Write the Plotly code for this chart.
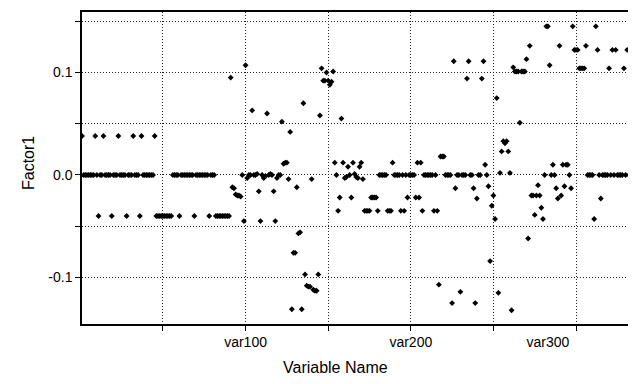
import plotly.graph_objects as go

# Variable indices (var1 .. var337)
var_index = list(range(1, 338))

# Factor1 loadings
factor1_001_100 = [
    0.038, 0, 0, 0, 0, 0, 0, 0, 0.038, 0,
    -0.040, 0, 0, 0.038, 0, 0, 0, 0, -0.040, 0,
    0, 0, 0.038, 0, 0, 0, 0, -0.040, 0, 0,
    0, 0.038, 0, 0, 0, -0.040, 0.038, 0, 0, 0,
    0, 0, 0, 0, 0.038, -0.040, -0.040, -0.040, -0.040, -0.040,
    -0.040, -0.040, -0.040, -0.040, -0.040, 0, 0, 0, 0, -0.040,
    0, 0, 0, 0, 0, 0, 0, 0, -0.040, 0,
    0, 0, 0, 0, 0, 0, 0, -0.040, 0, 0,
    0, -0.040, -0.040, -0.040, -0.040, -0.040, -0.040, -0.040, -0.040, -0.040,
    0.095, -0.012, -0.013, -0.019, -0.020, -0.020, -0.021, 0, -0.045, 0.107,
]
factor1_101_200 = [
    -0.003, 0, 0, 0.063, 0, 0, 0.001, -0.016, -0.045, 0,
    -0.003, -0.001, 0.060, 0, 0.001, 0, -0.016, -0.045, -0.003, 0,
    0, 0.052, 0.011, 0.012, 0.012, -0.004, 0.042, -0.131, -0.076, -0.076,
    -0.012, -0.057, -0.056, -0.131, 0.070, -0.097, -0.108, -0.109, -0.109, -0.004,
    -0.112, -0.113, -0.113, -0.097, 0.058, 0.104, 0.092, 0.092, 0.100, 0.092,
    0.088, 0.091, 0.101, 0.012, 0, -0.035, -0.022, 0.055, 0.012, -0.003,
    -0.002, 0.008, 0, -0.022, 0.012, 0.001, -0.002, -0.003, 0.008, 0.012,
    -0.004, -0.035, -0.035, -0.035, -0.035, -0.022, -0.022, -0.022, -0.022, -0.035,
    0, 0, 0, 0, 0, -0.035, -0.035, -0.035, 0.012, 0,
    0, 0, 0, -0.035, 0, -0.035, 0, -0.022, 0, 0,
]
factor1_201_300 = [
    0, 0, -0.022, 0.012, -0.022, 0.012, -0.035, 0, 0, 0,
    0, 0, 0, -0.035, 0, -0.035, -0.107, 0.018, 0.018, 0.018,
    0, 0, 0, 0, -0.125, 0.111, -0.013, 0, 0, -0.114,
    0, 0, 0, 0.094, 0.111, 0, 0, -0.013, -0.125, -0.023,
    0, 0, 0.094, 0.111, 0.010, 0, -0.011, -0.084, -0.030, -0.020,
    -0.043, 0.075, -0.115, 0.002, 0.023, 0.033, 0.031, 0.033, 0.023, 0.002,
    -0.132, 0.105, 0.101, 0.101, 0.101, 0.051, 0.101, 0.101, 0.101, 0.113,
    -0.062, 0.126, -0.020, -0.020, -0.039, -0.020, -0.010, -0.020, -0.032, -0.043,
    0, 0.145, 0.145, 0.107, 0, 0.010, 0, -0.013, -0.023, 0.126,
    -0.020, 0.010, -0.011, 0.010, 0.010, 0, -0.013, 0.145, 0.122, 0.122,
]
factor1_301_337 = [
    0.122, 0.104, 0.104, 0.104, 0.104, 0.126, 0, 0, 0, 0,
    -0.043, 0.145, 0.122, 0, -0.023, 0, 0, 0, 0, 0.104,
    0, 0.122, 0, 0.122, 0, 0, 0, 0, 0.104, 0,
    0.122, 0, 0.122, 0, 0, 0, 0,
]
factor1 = factor1_001_100 + factor1_101_200 + factor1_201_300 + factor1_301_337

# Axis ticks
x_grid_ticks = [50, 100, 150, 200, 250, 300]
x_label_pos = [100, 200, 283]
x_label_text = ["var100", "var200", "var300"]
y_ticks = [-0.1, -0.05, 0.0, 0.05, 0.1, 0.15]
y_tick_text = ["-0.1", "", "0.0", "", "0.1", ""]

FONT = "Liberation Sans, Arial, Helvetica, sans-serif"
X_RANGE = [1.0, 336.3]
GRID_DASH = "1px,2px"

fig = go.Figure()
fig.add_trace(go.Scatter(
    x=var_index, y=factor1, mode="markers",
    marker=dict(symbol="diamond", size=4.5, color="black", line=dict(width=0)),
    showlegend=False, hoverinfo="x+y",
))
fig.add_trace(go.Scatter(x=[], y=[], xaxis="x2", showlegend=False))

# page body has an 8px margin, so the figure is 8px smaller and offset
fig.update_layout(
    width=628, height=376,
    margin=dict(l=74, r=0, t=4, b=60),
    paper_bgcolor="white", plot_bgcolor="white",
    font=dict(family=FONT, color="black", size=14),
    xaxis=dict(
        range=X_RANGE, tickvals=x_grid_ticks, ticktext=[""] * len(x_grid_ticks),
        ticks="outside", ticklen=5, tickcolor="black", tickwidth=1,
        showline=True, linecolor="black", linewidth=2, mirror=True,
        showgrid=True, gridcolor="#222", griddash=GRID_DASH, gridwidth=1,
        zeroline=False,
    ),
    xaxis2=dict(
        overlaying="x", anchor="y", side="bottom", range=X_RANGE,
        tickvals=x_label_pos, ticktext=x_label_text,
        ticks="outside", ticklen=5, tickcolor="rgba(0,0,0,0)",
        showgrid=False, showline=False, zeroline=False,
        tickfont=dict(size=14, family=FONT, color="black"),
    ),
    yaxis=dict(
        range=[-0.1454, 0.159], tickvals=y_ticks, ticktext=y_tick_text,
        ticks="outside", ticklen=5, tickcolor="black", tickwidth=1,
        showline=True, linecolor="black", linewidth=1.5,
        showgrid=True, gridcolor="#222", griddash=GRID_DASH, gridwidth=1,
        zeroline=False, tickfont=dict(size=14),
    ),
    annotations=[
        dict(text="Factor1", xref="paper", yref="paper", x=-0.0975 * 554 / 554, y=0.516,
             textangle=-90, showarrow=False, font=dict(size=16),
             xanchor="center", yanchor="middle"),
        dict(text="Variable Name", xref="paper", yref="paper", x=0.4567, y=-0.141,
             showarrow=False, font=dict(size=16),
             xanchor="center", yanchor="middle"),
    ],
)

fig.write_html("out.html")
